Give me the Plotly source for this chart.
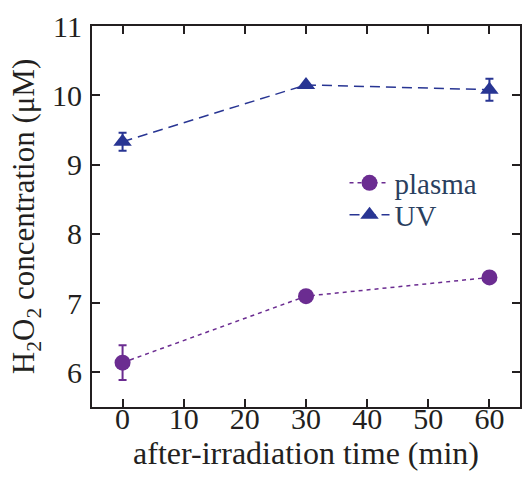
import plotly.graph_objects as go

time_min = [0, 30, 60]
plasma = [6.14, 7.10, 7.37]
plasma_err = [0.25, 0.0, 0.0]
uv = [9.33, 10.15, 10.08]
uv_err = [0.13, 0.0, 0.16]

x_ticks = [0, 10, 20, 30, 40, 50, 60]
y_ticks = [6, 7, 8, 9, 10, 11]

purple = "#6b2c91"
blue = "#283593"
font = "'Liberation Serif', 'Times New Roman', serif"
ink = "#231f20"

fig = go.Figure()
fig.add_trace(go.Scatter(
    x=time_min, y=plasma, name="plasma", mode="lines+markers", legend="legend",
    xaxis="x2", yaxis="y",
    line=dict(color=purple, width=1.5, dash="4px,4px"),
    marker=dict(symbol="circle", size=16, color=purple),
    error_y=dict(type="data", array=plasma_err, color=purple, thickness=2, width=4, visible=True),
))
fig.add_trace(go.Scatter(
    x=time_min, y=uv, name="UV", mode="lines+markers", legend="legend2",
    line=dict(color=blue, width=1.5, dash="10px,6px"),
    marker=dict(symbol="triangle-up", size=16, color=blue),
    error_y=dict(type="data", array=uv_err, color=blue, thickness=2, width=4, visible=True),
))

axis_common = dict(
    showline=True, linecolor=ink, linewidth=2, mirror="ticks",
    ticks="inside", ticklen=8, tickwidth=2, tickcolor=ink,
    showgrid=False, zeroline=False,
    tickfont=dict(family=font, size=30, color=ink),
)
x_range = [-5, 65]
fig.update_layout(
    xaxis=dict(range=x_range, tickvals=x_ticks, showticklabels=False, **axis_common),
    yaxis=dict(range=[5.5, 11], tickvals=y_ticks, ticklabelstandoff=2,
               title=dict(text="H<sub>2</sub>O<sub>2</sub> concentration (μM)", font=dict(family=font, size=31, color=ink), standoff=8),
               **axis_common),
    xaxis2=dict(overlaying="x", anchor="free", position=0.024, side="bottom",
                range=x_range, tickvals=x_ticks, showline=False, ticks="",
                showgrid=False, zeroline=False,
                tickfont=dict(family=font, size=30, color=ink),
                title=dict(text="after-irradiation time (min)", font=dict(family=font, size=32, color=ink), standoff=2)),
)

leg_common = dict(xanchor="left", yanchor="middle", font=dict(family=font, size=29),
                  bgcolor="rgba(0,0,0,0)", itemwidth=40)
fig.update_layout(
    width=523, height=479,
    margin=dict(l=92, r=1, t=26, b=72),
    plot_bgcolor="white", paper_bgcolor="white",
    legend=dict(x=0.59, y=0.588, **leg_common),
    legend2=dict(x=0.59, y=0.504, **leg_common),
    showlegend=True,
)

fig.write_html("out.html")
